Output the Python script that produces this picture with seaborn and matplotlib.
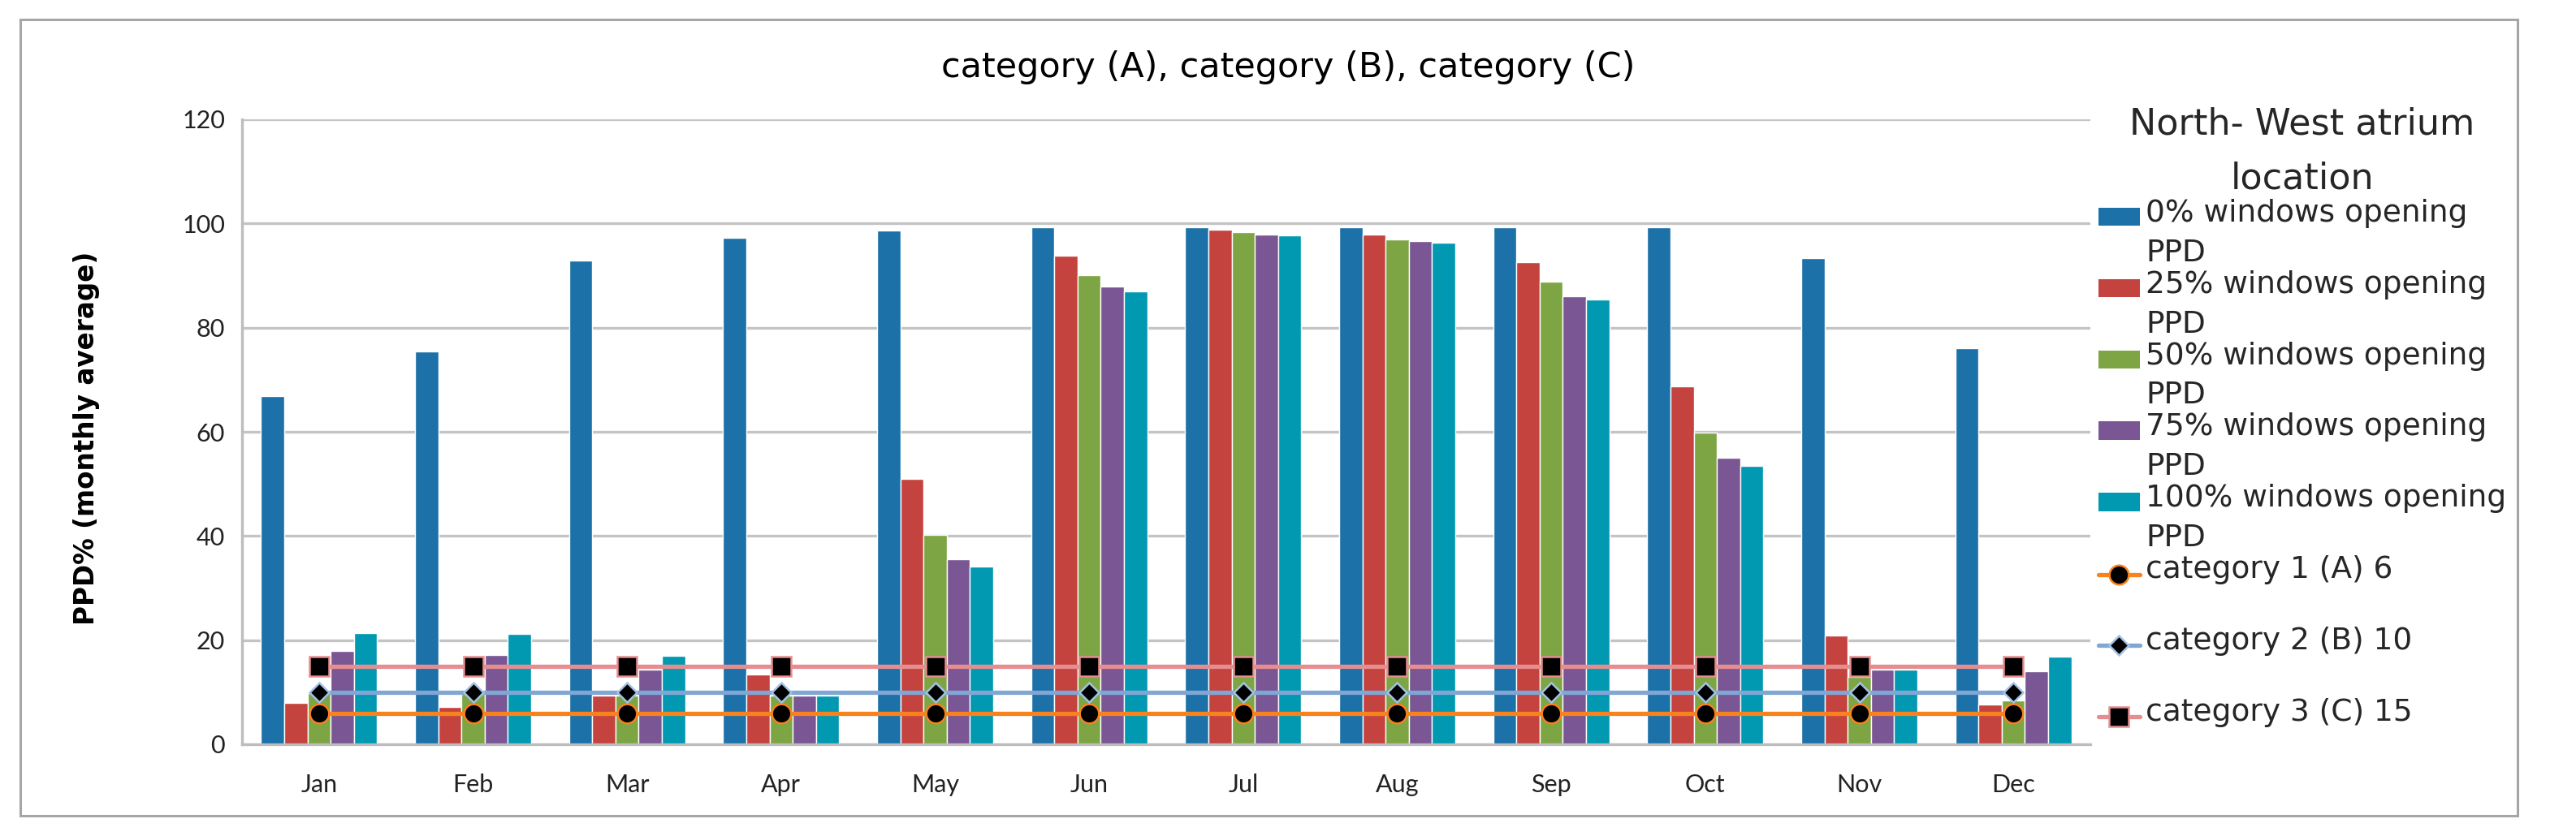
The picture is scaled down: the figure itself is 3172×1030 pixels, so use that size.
import numpy as np
import pandas as pd
import seaborn as sns
import matplotlib.pyplot as plt
from matplotlib.patches import Patch, Rectangle
from matplotlib.lines import Line2D
from matplotlib.legend_handler import HandlerPatch, HandlerLine2D

# monthly average PPD (%) per window opening ratio
months = ['Jan', 'Feb', 'Mar', 'Apr', 'May', 'Jun', 'Jul', 'Aug', 'Sep', 'Oct', 'Nov', 'Dec']
ppd_0 = [66.9, 75.4, 92.9, 97.2, 98.6, 99.2, 99.2, 99.2, 99.2, 99.2, 93.3, 76.0]
ppd_25 = [8.0, 7.2, 9.4, 13.4, 51.0, 93.8, 98.8, 97.9, 92.5, 68.7, 20.9, 7.7]
ppd_50 = [9.8, 9.6, 9.4, 9.4, 40.2, 90.1, 98.3, 97.0, 88.8, 59.9, 13.0, 8.4]
ppd_75 = [17.9, 17.1, 14.4, 9.4, 35.6, 87.9, 97.9, 96.6, 86.1, 55.0, 14.3, 14.1]
ppd_100 = [21.4, 21.2, 17.0, 9.4, 34.2, 86.9, 97.7, 96.3, 85.4, 53.4, 14.4, 16.8]

# comfort category limits
cat_a = [6, 6, 6, 6, 6, 6, 6, 6, 6, 6, 6, 6]
cat_b = [10, 10, 10, 10, 10, 10, 10, 10, 10, 10, 10, 10]
cat_c = [15, 15, 15, 15, 15, 15, 15, 15, 15, 15, 15, 15]

series_names = ['0% windows opening\nPPD', '25% windows opening\nPPD', '50% windows opening\nPPD',
                '75% windows opening\nPPD', '100% windows opening\nPPD']
bar_colors = ['#1C71A8', '#C4433F', '#7DA544', '#7A5694', '#0099B1']

W, H = 3172, 1030
LEG_SIZE = 27
RAISE = 15.0  # points, lifts legend handles onto the first text line


class RaisedPatch(HandlerPatch):
    def create_artists(self, legend, orig_handle, xdescent, ydescent, width, height, fontsize, trans):
        return super().create_artists(legend, orig_handle, xdescent, ydescent - RAISE,
                                      width, height, fontsize, trans)


class RaisedLine(HandlerLine2D):
    def create_artists(self, legend, orig_handle, xdescent, ydescent, width, height, fontsize, trans):
        return super().create_artists(legend, orig_handle, xdescent, ydescent - 2 * RAISE,
                                      width, height, fontsize, trans)


def build_frame():
    rows = []
    for name, vals in zip(series_names, [ppd_0, ppd_25, ppd_50, ppd_75, ppd_100]):
        for m, v in zip(months, vals):
            rows.append({'Month': m, 'Series': name, 'PPD': v})
    return pd.DataFrame(rows)


def limit_line(color, edge, marker, size):
    return dict(color=color, lw=3.8, marker=marker, markersize=size, markerfacecolor='black',
                markeredgecolor=edge, markeredgewidth=1.8)


def plot_chart(df):
    sns.set_style('white')
    plt.rcParams['font.family'] = ['DejaVu Sans']

    fig = plt.figure(figsize=(W / 100, H / 100), dpi=100)
    ax = fig.add_axes([298 / W, 1 - 917 / H, (2574 - 298) / W, (917 - 147) / H])

    sns.barplot(data=df, x='Month', y='PPD', hue='Series', order=months, hue_order=series_names,
                palette=bar_colors, saturation=1, width=0.755, gap=0, legend=False, ax=ax, zorder=2)

    styles = [limit_line('#F7821E', '#F7821E', 'o', 17),
              limit_line('#80A6D4', '#A3C1E4', 'D', 12),
              limit_line('#E68D8F', '#E68D8F', 's', 17)]
    xs = np.arange(len(months))
    for vals, st in zip([cat_a, cat_b, cat_c], styles):
        sns.lineplot(x=xs, y=vals, ax=ax, zorder=4, **st)

    ax.set_xlim(-0.5, len(months) - 0.5)
    ax.set_ylim(0, 120)
    ax.set_yticks(range(0, 121, 20))
    ax.yaxis.grid(True, color='#C4C4C4', lw=2.4)
    ax.set_axisbelow(True)
    for side in ['top', 'right']:
        ax.spines[side].set_visible(False)
    for side in ['left', 'bottom']:
        ax.spines[side].set_color('#BDBDBD')
        ax.spines[side].set_linewidth(2.4)
    for lab in ax.get_xticklabels() + ax.get_yticklabels():
        lab.set_family('Lato')
    ax.tick_params(axis='y', length=0, pad=15, labelsize=22, labelcolor='#222222')
    ax.tick_params(axis='x', length=0, pad=26, labelsize=22, labelcolor='#222222')
    ax.set_xlabel('')
    ax.set_ylabel('PPD% (monthly average)', fontsize=23.5, fontweight='bold', color='black')
    ax.yaxis.set_label_coords(-0.077, 0.49)

    fig.text(0.5, 1 - 95 / H, 'category (A), category (B), category (C)',
             ha='center', va='baseline', fontsize=31, color='black')

    # legend
    handles = [Patch(facecolor=c, edgecolor='none') for c in bar_colors]
    handles += [Line2D([], [], **st) for st in styles]
    labels = series_names + ['category 1 (A) 6\n ', 'category 2 (B) 10\n ', 'category 3 (C) 15\n ']
    hmap = {h: (RaisedPatch() if isinstance(h, Patch) else RaisedLine(numpoints=1)) for h in handles}
    leg = ax.legend(handles, labels, handler_map=hmap, loc='upper left',
                    bbox_to_anchor=(2584 / W, 1 - 132 / H), bbox_transform=fig.transFigure,
                    frameon=False, fontsize=LEG_SIZE, title='North- West atrium\nlocation',
                    title_fontsize=32, borderpad=0, borderaxespad=0, handlelength=1.35,
                    handleheight=0.55, handletextpad=0.2, labelspacing=0.08)
    for t in leg.get_texts():
        t.set_linespacing(1.46)
    leg.get_title().set_linespacing(1.7)
    leg.get_title().set_multialignment('center')

    # outer chart border
    fig.patches.append(Rectangle((25 / W, 1 - 1005 / H), (3100 - 25) / W, (1005 - 24) / H,
                                 transform=fig.transFigure, fill=False, edgecolor='#A6A6A6', lw=2.2))

    fig.savefig('out.png', dpi=100)


if __name__ == '__main__':
    plot_chart(build_frame())
